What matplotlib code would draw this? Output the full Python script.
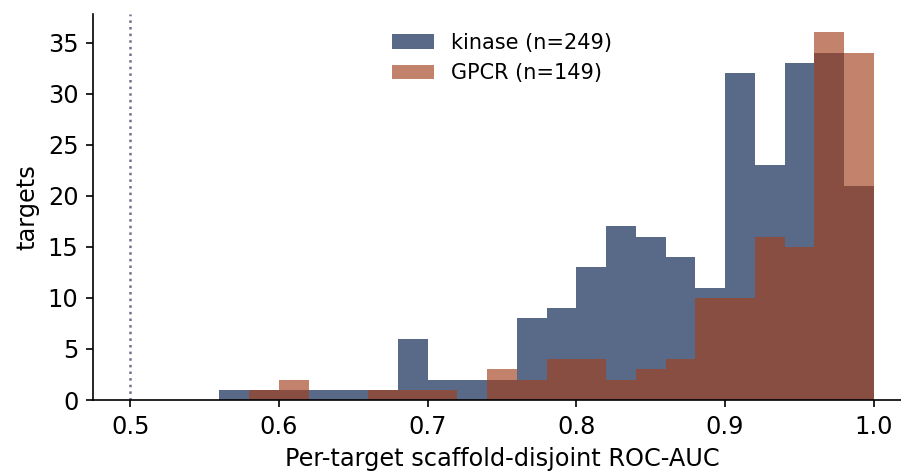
import numpy as np
import matplotlib
matplotlib.use("Agg")
import matplotlib.pyplot as plt

# histogram bins (ROC-AUC), width 0.02
bin_edges = [0.56, 0.58, 0.60, 0.62, 0.64, 0.66, 0.68, 0.70, 0.72, 0.74, 0.76,
             0.78, 0.80, 0.82, 0.84, 0.86, 0.88, 0.90, 0.92, 0.94, 0.96, 0.98, 1.00]
kinase_counts = [1, 1, 1, 1, 1, 1, 6, 2, 2, 2, 8, 9, 13, 17, 16, 14, 11, 32, 23, 33, 34, 21]
gpcr_counts = [0, 1, 2, 0, 0, 1, 1, 1, 0, 3, 2, 4, 4, 2, 3, 4, 10, 10, 16, 15, 36, 34]
kinase_label = "kinase (n=249)"
gpcr_label = "GPCR (n=149)"
xticks = [0.5, 0.6, 0.7, 0.8, 0.9, 1.0]
yticks = [0, 5, 10, 15, 20, 25, 30, 35]


def main():
    fig = plt.figure(figsize=(901 / 150, 473 / 150), dpi=150)
    ax = fig.add_axes([93 / 901, 1 - 400 / 473, 818 / 901, 386 / 473])

    centers = [(a + b) / 2 for a, b in zip(bin_edges[:-1], bin_edges[1:])]
    ax.hist(centers, bins=bin_edges, weights=kinase_counts,
            color="#001b48", alpha=0.65, label=kinase_label)
    ax.hist(centers, bins=bin_edges, weights=gpcr_counts,
            color="#a43f1d", alpha=0.65, label=gpcr_label)
    ax.axvline(0.5, color="#6f7387", linestyle=":", linewidth=1.2)

    ax.set_xlim(0.475, 1.025)
    ax.set_ylim(0, 37.8)
    ax.set_xticks(xticks)
    ax.set_xticklabels([f"{t:.1f}" for t in xticks])
    ax.set_yticks(yticks)
    ax.tick_params(labelsize=11.5)
    ax.set_xlabel("Per-target scaffold-disjoint ROC-AUC", fontsize=11.5)
    ax.set_ylabel("targets", fontsize=11.5)
    ax.spines["top"].set_visible(False)
    ax.spines["right"].set_visible(False)

    ax.legend(loc="upper center", frameon=False, fontsize=10)

    fig.savefig("out.png", dpi=150)


if __name__ == "__main__":
    main()
